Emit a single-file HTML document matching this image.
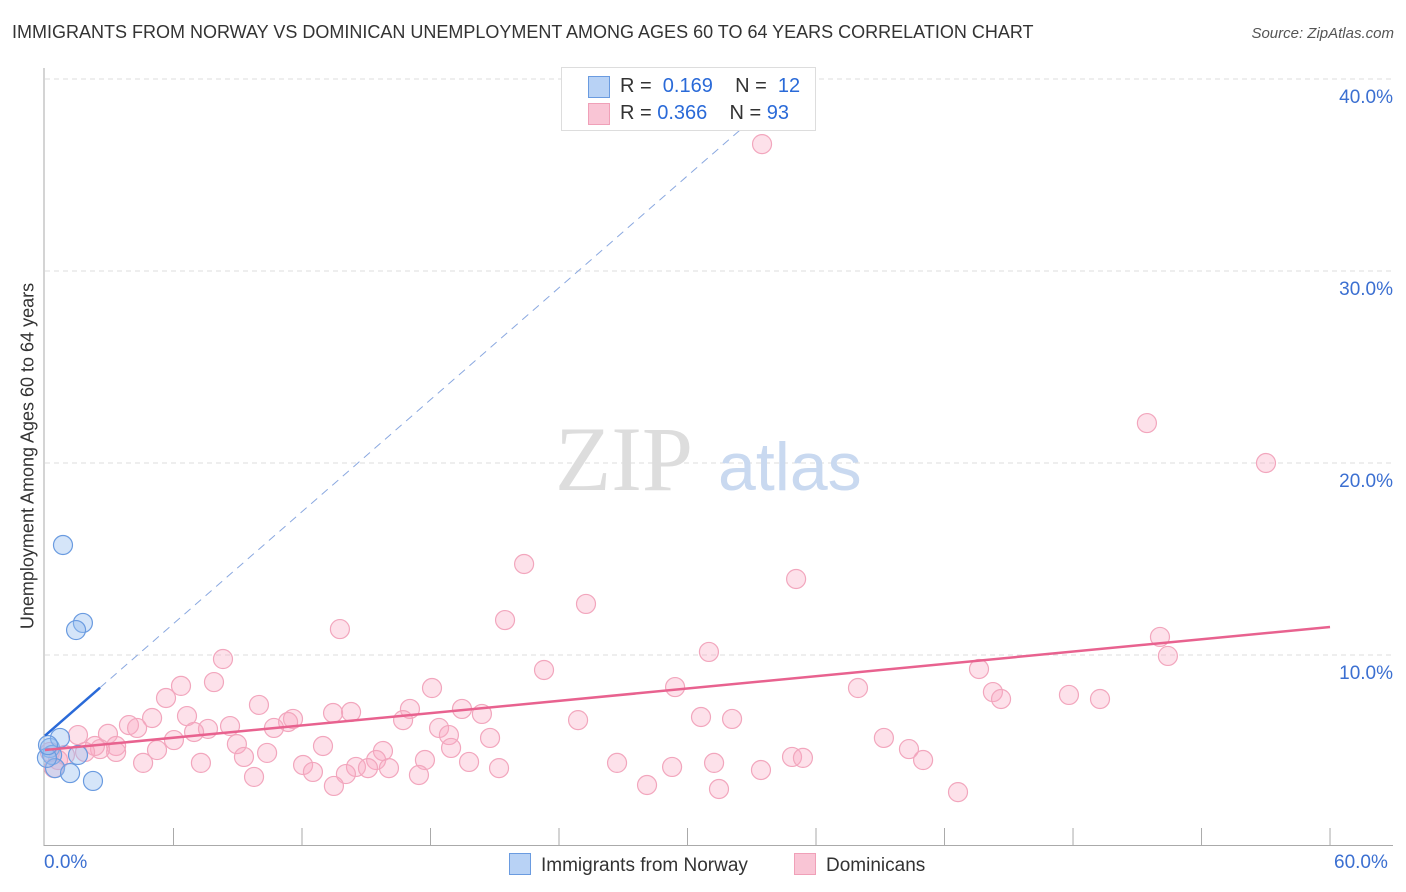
<!DOCTYPE html>
<html><head><meta charset="utf-8"><style>
body{margin:0;background:#fff;font-family:"Liberation Sans",sans-serif}
#wrap{position:relative;width:1406px;height:892px;overflow:hidden}
.t{position:absolute;white-space:nowrap}
</style></head><body><div id="wrap">
<div class="t" style="left:12px;top:22px;font-size:18px;color:#333">IMMIGRANTS FROM NORWAY VS DOMINICAN UNEMPLOYMENT AMONG AGES 60 TO 64 YEARS CORRELATION CHART</div>
<div class="t" style="right:12px;top:25px;font-size:15px;color:#555;font-style:italic">Source: ZipAtlas.com</div>
<svg id="svg" width="1406" height="892" style="position:absolute;left:0;top:0"></svg>
</div>
<script>
const yTicks=[10,20,30,40];
const xTickLabels=["0.0%","60.0%"];
const blueX=[0.84,1.77,1.45,0.23,0.70,0.33,0.47,1.17,2.24,1.54,0.09,0.14];
const blueY=[15.73,11.67,11.30,5.16,5.68,4.79,4.11,3.85,3.44,4.79,4.64,5.31];
const pinkPx=[[762,144],[1147,423],[1266,463],[524,564],[796,579],[586,604],[505,620],[340,629],[1160,637],[1168,656],[709,652],[223,659],[544,670],[979,669],[675,687],[858,688],[181,686],[214,682],[432,688],[993,692],[1069,695],[1100,699],[1001,699],[166,698],[259,705],[410,709],[462,709],[351,712],[333,713],[152,718],[187,716],[482,714],[293,719],[288,722],[701,717],[732,719],[578,720],[403,720],[129,725],[137,728],[230,726],[274,728],[439,728],[208,729],[194,732],[449,735],[78,735],[108,734],[174,740],[490,738],[884,738],[237,744],[323,746],[116,746],[157,750],[116,752],[100,749],[95,746],[451,748],[909,749],[383,751],[267,753],[244,757],[792,757],[803,758],[65,755],[50,752],[58,760],[376,760],[425,760],[143,763],[201,763],[303,765],[313,772],[356,767],[368,768],[389,768],[469,762],[499,768],[617,763],[672,767],[714,763],[923,760],[761,770],[419,775],[254,777],[346,774],[647,785],[334,786],[719,789],[958,792],[54,768],[85,752]];
const pinkX=pinkPx.map(p=>+((p[0]-45)/21.417).toFixed(2));
const pinkY=pinkPx.map(p=>+((847-p[1])/19.2).toFixed(2));
const pinkTrend=[5.05,11.46];
const blueTrend=[5.8,0.972];
const X=v=>45+v*21.417, Y=v=>847-v*19.2;
const svg=document.getElementById('svg');
function el(t,a,p){const e=document.createElementNS('http://www.w3.org/2000/svg',t);for(const k in a)e.setAttribute(k,a[k]);(p||svg).appendChild(e);return e;}
yTicks.forEach(v=>{const l=el('line',{x1:45,x2:1393,y1:Y(v),y2:Y(v),stroke:'#ddd','stroke-dasharray':'5,4'});


const t=el('text',{x:1393,y:Y(v)+24,'text-anchor':'end','font-size':19,fill:'#3b6fd1','font-family':'Liberation Sans'});t.textContent=v.toFixed(1)+'%';

});
el('line',{x1:44,x2:44,y1:68,y2:846,stroke:'#aaa'});
el('line',{x1:44,x2:1393,y1:845.5,y2:845.5,stroke:'#aaa'});
for(let i=1;i<=10;i++){const tk=el('line',{x1:X(i*6),x2:X(i*6),y1:828,y2:845,stroke:'#aaa'});

}
const wm=el('text',{x:555,y:490,'font-size':92,fill:'#ddd','font-family':'Liberation Serif'});wm.textContent='ZIP';
const wm2=el('text',{x:718,y:490,'font-size':68,fill:'#c9d9f0','font-family':'Liberation Sans'});wm2.textContent='atlas';
pinkX.forEach((x,i)=>{const c=el('circle',{cx:X(x),cy:Y(pinkY[i]),r:9.5,fill:'rgba(248,170,195,0.35)',stroke:'#f2a6bd','stroke-width':1.2});

});
blueX.forEach((x,i)=>{const c=el('circle',{cx:X(x),cy:Y(blueY[i]),r:9.5,fill:'rgba(150,190,240,0.4)',stroke:'#6a9be0','stroke-width':1.2});

});
const bxEnd=(40-blueTrend[0])/blueTrend[1];
el('line',{x1:X(2.57),y1:Y(blueTrend[0]+blueTrend[1]*2.57),x2:X(bxEnd),y2:Y(40),stroke:'#8aa8e0','stroke-width':1,'stroke-dasharray':'8,6'});
el('line',{x1:X(0),y1:Y(blueTrend[0]),x2:X(2.57),y2:Y(blueTrend[0]+blueTrend[1]*2.57),stroke:'#2a6ad8','stroke-width':2.5});
const pl=el('line',{x1:X(0),y1:Y(pinkTrend[0]),x2:X(60),y2:Y(pinkTrend[1]),stroke:'#e8628f','stroke-width':2.5});


</script>
<div class="t" style="left:28px;top:456px;font-size:18px;color:#333;transform:translate(-50%,-50%) rotate(-90deg);transform-origin:center;left:28px">Unemployment Among Ages 60 to 64 years</div>
<div class="t" style="left:44px;top:852px;font-size:19px;color:#3b6fd1">0.0%</div>
<div class="t" style="left:1334px;top:852px;font-size:19px;color:#3b6fd1">60.0%</div>
<div style="position:absolute;left:561px;top:67px;width:253px;height:62px;background:#fff;border:1px solid #ddd;font-size:20px;color:#333">
<div style="position:absolute;left:26px;top:8px;width:20px;height:20px;background:#b8d2f5;border:1px solid #6a9be0"></div>
<div class="t" style="left:58px;top:7px">R = <span style="color:#2a6ad8">&nbsp;0.169</span>&nbsp;&nbsp;&nbsp; N = <span style="color:#2a6ad8">&nbsp;12</span></div>
<div style="position:absolute;left:26px;top:35px;width:20px;height:20px;background:#f9c5d5;border:1px solid #f0a0b8"></div>
<div class="t" style="left:58px;top:34px">R = <span style="color:#2a6ad8">0.366</span>&nbsp;&nbsp;&nbsp; N = <span style="color:#2a6ad8">93</span></div>
</div>
<div style="position:absolute;left:509px;top:853px;font-size:19px;color:#333"><span style="display:inline-block;width:20px;height:20px;background:#b8d2f5;border:1px solid #6a9be0;vertical-align:-4px;margin-right:10px"></span>Immigrants from Norway</div>
<div style="position:absolute;left:794px;top:853px;font-size:19px;color:#333"><span style="display:inline-block;width:20px;height:20px;background:#f9c5d5;border:1px solid #f0a0b8;vertical-align:-4px;margin-right:10px"></span>Dominicans</div>
</body></html>
